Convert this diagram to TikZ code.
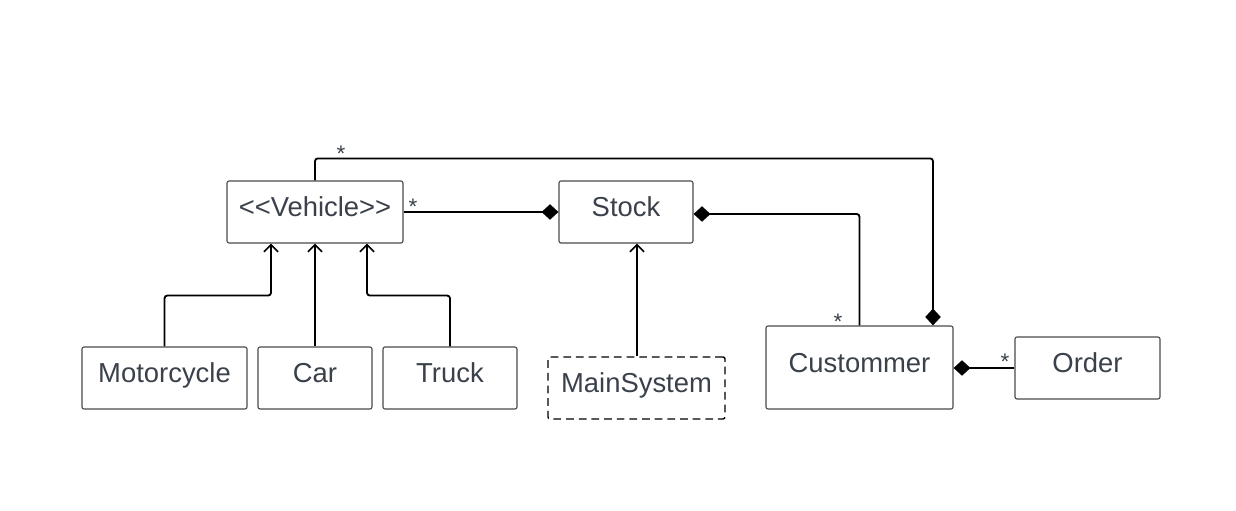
\documentclass[tikz,border=0pt]{standalone}
\usepackage{fontspec}
\setmainfont{Liberation Sans}
\usetikzlibrary{calc, positioning}
\usetikzlibrary{arrows.meta}
\definecolor{txtgray}{HTML}{3A414A}
\definecolor{boxgray}{HTML}{4A4A4A}

\begin{document}
\begin{tikzpicture}[x=0.025cm,y=0.025cm,
  cls/.style={draw=boxgray,line width=0.8pt,rounded corners=1.5pt,minimum height=1.55cm,
    text=txtgray,font=\fontsize{19.5}{23}\selectfont,inner sep=0pt,text height=14pt,text depth=7.1pt},
  iface/.style={cls,draw=black,line width=1pt,dash pattern=on 5.5pt off 3.5pt},
  inh/.style={line width=1.3pt,rounded corners=2pt,-{Straight Barb[length=5pt,width=10pt,line width=1.2pt]}},
  comp/.style={line width=1.3pt,rounded corners=2pt,-{Diamond[length=12pt,width=11pt]}},
  mult/.style={text=txtgray,font=\fontsize{16}{16}\selectfont,inner sep=0pt}]
\useasboundingbox (0,0) rectangle (1236,511);

\node[cls,minimum width=4.4cm] (veh) at (315,299) {<{}<Vehicle>{}>};
\node[cls,minimum width=3.35cm] (stock) at (626,299) {Stock};
\node[cls,minimum width=4.125cm] (moto) at (164.5,133) {Motorcycle};
\node[cls,minimum width=2.85cm] (car) at (315,133) {Car};
\node[cls,minimum width=3.35cm] (truck) at (450,133) {Truck};
\node[iface,minimum width=4.425cm] (main) at (636.5,123) {MainSystem};
\node[cls,minimum width=4.675cm,minimum height=2.075cm] (cust) at (859.5,143.5) {Custommer};
\node[cls,minimum width=3.625cm] (order) at (1087.5,143) {Order};

\draw[inh] (moto.north) |- ($(veh.south)+(-44,-52)$) -- ($(veh.south)+(-44,0)$);
\draw[inh] (car.north) -- (veh.south);
\draw[inh] (truck.north) |- ($(veh.south)+(52,-52)$) -- ($(veh.south)+(52,0)$);
\draw[inh] ($(main.north)+(0.5,0)$) -- ($(main.north |- stock.south)+(0.5,0)$);

\draw[comp] (veh.east) -- (stock.west);
\draw[comp] (cust.north) |- ($(stock.east)+(0,-2)$);
\draw[comp] (veh.north) -- ++(0,22) -| ($(cust.north)+(73.5,0)$);
\draw[comp] (order.west) -- (order.west -| cust.east);

\node[mult] (m1) at (413,304) {*};
\node[mult] (m2) at (341,357) {*};
\node[mult] (m3) at (838,189) {*};
\node[mult] (m4) at (1005,149) {*};
\end{tikzpicture}
\end{document}
